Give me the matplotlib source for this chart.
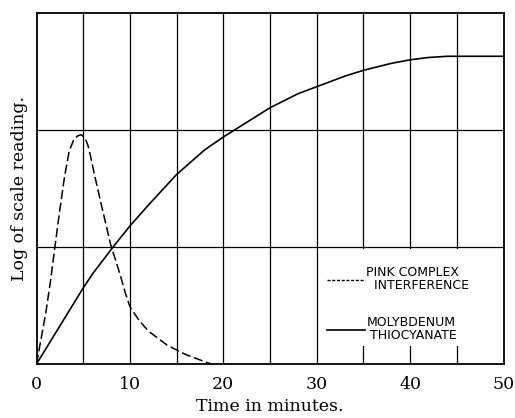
import matplotlib
matplotlib.use("Agg")
import matplotlib.pyplot as plt
from matplotlib.patches import Rectangle
from matplotlib.lines import Line2D

# ── data ─────────────────────────────────────────────────────────────────────
pink_t = [0, 0.5, 1, 1.5, 2, 2.5, 3, 3.5, 4, 4.4, 4.8, 5.2, 5.5, 5.8, 6.2,
          6.6, 7, 7.5, 8, 8.5, 9, 9.5, 10, 10.5, 11, 12, 13, 14, 15, 16, 17,
          18, 18.7]
pink_y = [0, 0.22, 0.44, 0.71, 1.02, 1.32, 1.6, 1.82, 1.92, 1.95, 1.96, 1.93,
          1.87, 1.77, 1.62, 1.48, 1.34, 1.17, 1.0, 0.88, 0.75, 0.61, 0.49,
          0.43, 0.37, 0.28, 0.22, 0.16, 0.12, 0.08, 0.05, 0.02, 0.0]

moly_t = [0, 2, 4, 5, 6, 8, 10, 12, 15, 18, 20, 22, 25, 28, 30, 33, 35, 38,
          40, 42, 44, 45, 50]
moly_y = [0, 0.26, 0.52, 0.65, 0.77, 0.98, 1.18, 1.36, 1.62, 1.83, 1.94, 2.04,
          2.19, 2.31, 2.37, 2.46, 2.51, 2.57, 2.60, 2.62, 2.63, 2.63, 2.63]

x_ticks = [0, 10, 20, 30, 40, 50]
x_grid = [5, 10, 15, 20, 25, 30, 35, 40, 45]
y_grid = [1, 2]

labels = ["PINK COMPLEX\n  INTERFERENCE", "MOLYBDENUM\n THIOCYANATE"]

# ── figure ───────────────────────────────────────────────────────────────────
fig = plt.figure(figsize=(5.15, 4.18), dpi=100)
ax = fig.add_axes([0.0709, 0.1292, 0.9068, 0.8397])

for xv in x_grid:
    ax.axvline(xv, color='black', lw=0.9, zorder=0.5)
for yv in y_grid:
    ax.axhline(yv, color='black', lw=0.9, zorder=0.5)

# white block behind the legend hides the grid there
ax.add_patch(Rectangle((30.3, 0.15), 19.6, 0.835, facecolor='white',
                       edgecolor='none', zorder=1))

ax.plot(pink_t, pink_y, color='black', lw=1.1, dashes=(6, 2.4), zorder=2)
ax.plot(moly_t, moly_y, color='black', lw=1.2, zorder=2)

ax.set_xlim(0, 50)
ax.set_ylim(0, 3)
ax.set_xticks(x_ticks)
ax.set_xticklabels([str(v) for v in x_ticks], family='DejaVu Serif', fontsize=12.5)
ax.set_yticks([])
ax.tick_params(axis='x', length=0, pad=9)
for sp in ax.spines.values():
    sp.set_linewidth(1.3)

ax.set_xlabel("Time in minutes.", family='DejaVu Serif', fontsize=12.5, labelpad=3)
ax.set_ylabel("Log of scale reading.", family='DejaVu Serif', fontsize=12.5, labelpad=6)

handles = [Line2D([], [], color='black', lw=1.0, dashes=(2.2, 1.2)),
           Line2D([], [], color='black', lw=1.2)]
leg = ax.legend(handles, labels, loc='upper left', bbox_to_anchor=(0.598, 0.31),
                frameon=False, handlelength=3.0, handletextpad=0.15,
                labelspacing=1.9, prop={'family': 'DejaVu Sans', 'size': 9})
for t in leg.get_texts():
    t.set_linespacing(1.0)

fig.savefig("out.png", dpi=100)
